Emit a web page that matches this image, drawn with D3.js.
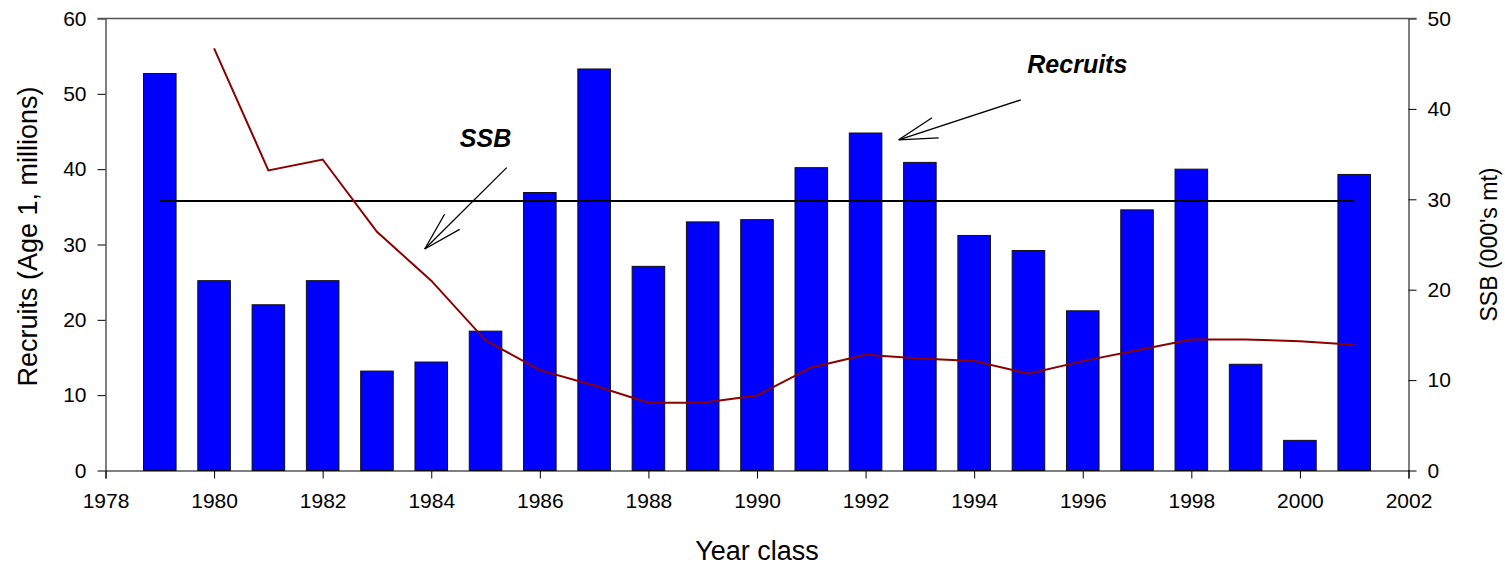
<!DOCTYPE html>
<meta charset="utf-8">
<script src="https://d3js.org/d3.v7.min.js"></script>
<style>
  body { margin: 0; background: #fff; }
  text { font-family: Arial, "Liberation Sans", sans-serif; }
</style>
<div id="chart"></div>
<script>

// year classes and values
var years    = [1979, 1980, 1981, 1982, 1983, 1984, 1985, 1986, 1987, 1988, 1989, 1990,
                1991, 1992, 1993, 1994, 1995, 1996, 1997, 1998, 1999, 2000, 2001];
var recruits = [52.7, 25.2, 22.0, 25.2, 13.2, 14.4, 18.5, 36.9, 53.3, 27.1, 33.0, 33.3,
                40.2, 44.8, 40.9, 31.2, 29.2, 21.2, 34.6, 40.0, 14.1, 4.0, 39.3];
// SSB starts in 1980
var ssbYears = [1980, 1981, 1982, 1983, 1984, 1985, 1986, 1987, 1988, 1989, 1990, 1991,
                1992, 1993, 1994, 1995, 1996, 1997, 1998, 1999, 2000, 2001];
var ssb      = [46.7, 33.2, 34.4, 26.4, 21.0, 14.4, 11.1, 9.4, 7.5, 7.5, 8.3, 11.4,
                12.8, 12.4, 12.1, 10.7, 12.1, 13.3, 14.5, 14.5, 14.3, 13.9];
var refSSB = 29.8;          // horizontal reference, right axis
var refYears = [1979, 2001];

var xTicks  = d3.range(1978, 2003, 2);
var yTicksL = d3.range(0, 61, 10);
var yTicksR = d3.range(0, 51, 10);

// annotation arrows, in (year, recruits) units
var notes = [
  {label: "SSB",      lx: 1985.0, ly: 42.9, x1: 1985.39, y1: 40.2, x2: 1983.88, y2: 29.4},
  {label: "Recruits", lx: 1995.9, ly: 52.8, x1: 1994.86, y1: 49.2, x2: 1992.61, y2: 43.9}
];

var W = 1505, H = 565;
var pLeft = 105.5, pRight = 1408.5, pTop = 18.5, pBottom = 470.5;

var svg = d3.select("#chart").append("svg")
    .attr("width", W).attr("height", H);

var x = d3.scaleLinear().domain([1978, 2002]).range([pLeft, pRight]);
var yL = d3.scaleLinear().domain([0, 60]).range([pBottom, pTop]);
var yR = d3.scaleLinear().domain([0, 50]).range([pBottom, pTop]);

// bars
var bw = x(1978.3) - x(1978);
svg.append("g").selectAll("rect")
  .data(years)
  .enter().append("rect")
    .attr("x", function(d) { return x(d) - bw; })
    .attr("width", 2 * bw)
    .attr("y", function(d, i) { return yL(recruits[i]); })
    .attr("height", function(d, i) { return pBottom - yL(recruits[i]); })
    .attr("fill", "#0000ff")
    .attr("stroke", "#111")
    .attr("stroke-width", 1);

// reference line
svg.append("line")
    .attr("x1", x(refYears[0])).attr("x2", x(refYears[1]))
    .attr("y1", yR(refSSB)).attr("y2", yR(refSSB))
    .attr("stroke", "#000").attr("stroke-width", 2);

// SSB line
var line = d3.line()
    .x(function(d) { return x(d); })
    .y(function(d, i) { return yR(ssb[i]); });
svg.append("path")
    .datum(ssbYears)
    .attr("d", line)
    .attr("fill", "none")
    .attr("stroke", "#8b0000")
    .attr("stroke-width", 2);

// axes
var fs = "21px";
var gx = svg.append("g")
    .attr("transform", "translate(0," + pBottom + ")")
    .call(d3.axisBottom(x).tickValues(xTicks).tickFormat(d3.format("d")).tickSize(8).tickSizeOuter(8).tickPadding(15));
var gl = svg.append("g")
    .attr("transform", "translate(" + pLeft + ",0)")
    .call(d3.axisLeft(yL).tickValues(yTicksL).tickSize(8).tickSizeOuter(0).tickPadding(11));
var gr = svg.append("g")
    .attr("transform", "translate(" + pRight + ",0)")
    .call(d3.axisRight(yR).tickValues(yTicksR).tickSize(8).tickSizeOuter(0).tickPadding(11));
[gx, gl, gr].forEach(function(g) {
  g.selectAll("text").style("font-size", fs).attr("fill", "#000");
  g.selectAll("line,path").attr("stroke", "#000");
});

// top frame line
svg.append("line")
    .attr("x1", pLeft - 8).attr("x2", pRight + 8)
    .attr("y1", pTop).attr("y2", pTop)
    .attr("stroke", "#555").attr("stroke-width", 1.5);

// axis titles
svg.append("text")
    .attr("x", x(1990)).attr("y", 560)
    .attr("text-anchor", "middle")
    .style("font-size", "27px")
    .text("Year class");
svg.append("text")
    .attr("transform", "translate(37," + ((pTop + pBottom) / 2 - 8) + ") rotate(-90)")
    .attr("text-anchor", "middle")
    .style("font-size", "27px")
    .text("Recruits (Age 1, millions)");
svg.append("text")
    .attr("transform", "translate(1497," + ((pTop + pBottom) / 2) + ") rotate(-90)")
    .attr("text-anchor", "middle")
    .style("font-size", "23px")
    .text("SSB (000's mt)");

// annotations
notes.forEach(function(n) {
  svg.append("text")
      .attr("x", x(n.lx)).attr("y", yL(n.ly))
      .attr("text-anchor", "middle")
      .style("font-size", "25px").style("font-weight", "bold").style("font-style", "italic")
      .text(n.label);
  var hx = x(n.x2), hy = yL(n.y2);
  var a = Math.atan2(yL(n.y1) - hy, x(n.x1) - hx);
  var g = svg.append("g").attr("stroke", "#000").attr("stroke-width", 1.3);
  g.append("line").attr("x1", x(n.x1)).attr("y1", yL(n.y1)).attr("x2", hx).attr("y2", hy);
  [-0.27, 0.27].forEach(function(da) {
    g.append("line").attr("x1", hx).attr("y1", hy)
        .attr("x2", hx + 40 * Math.cos(a + da)).attr("y2", hy + 40 * Math.sin(a + da));
  });
});
</script>
